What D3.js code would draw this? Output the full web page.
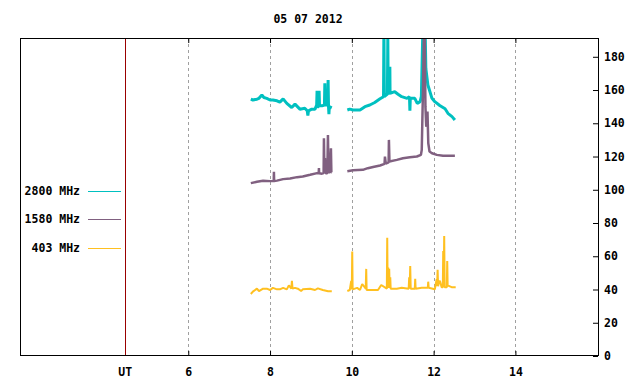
<!DOCTYPE html>
<html>
<head>
<meta charset="utf-8">
<script src="https://cdn.jsdelivr.net/npm/d3@7"></script>
<style>
  html, body { margin: 0; padding: 0; background: #fff; }
  svg text { font-family: "DejaVu Sans Mono", "Liberation Mono", monospace; font-weight: bold; font-size: 11.5px; fill: #000; }
</style>
</head>
<body>
<svg id="chart" width="640" height="384"></svg>
<script>
/* ---- data: [UT hour, flux] , null = data gap ---- */
const title = "05 07 2012";
const xTicks = [6, 8, 10, 12, 14];
const yTicks = [0, 20, 40, 60, 80, 100, 120, 140, 160, 180];
const utMarker = 4.46;

const freqs = ["2800 MHz", "1580 MHz", "403 MHz"];
const colors = ["#00c0c0", "#806080", "#ffc020"];

const mhz2800 = [
    [7.53, 154.5], [7.58, 154], [7.68, 154.5], [7.73, 155], [7.80, 157], [7.85, 155.5],
    [7.92, 155], [8.00, 154], [8.07, 154], [8.17, 153.5], [8.24, 152.7], [8.32, 154.7],
    [8.41, 152], [8.53, 149.5], [8.61, 151.5], [8.73, 148.5], [8.85, 149], [8.91, 147.5],
    [8.925, 144.7], [8.94, 147.5], [9.02, 148.5], [9.10, 148.5], [9.14, 151], [9.15, 159.5],
    [9.16, 150], [9.19, 150], [9.20, 159.5], [9.21, 150.5], [9.27, 150.5], [9.33, 151], [9.34, 164],
    [9.35, 151], [9.41, 151], [9.42, 166], [9.43, 150], [9.44, 145.5], [9.45, 150], [9.51, 149.3],
    [9.70, null],
    [9.89, 148], [9.95, 148.5], [10.03, 148], [10.20, 148], [10.32, 150], [10.44, 151],
    [10.56, 152.5], [10.69, 154.7], [10.775, 156], [10.785, 200], [10.795, 156], [10.87, 157.5],
    [10.88, 192], [10.89, 158], [10.925, 158], [10.93, 174], [10.935, 158], [11.05, 159], [11.13, 157.5],
    [11.22, 156], [11.35, 155], [11.41, 156], [11.42, 147.5], [11.43, 155], [11.54, 155],
    [11.60, 152], [11.67, 153], [11.70, 156], [11.74, 200], [11.76, 175], [11.79, 200],
    [11.81, 173], [11.84, 167], [11.86, 163], [11.96, 155], [12.03, 153], [12.15, 150.7],
    [12.28, 148.7], [12.35, 146], [12.45, 144], [12.52, 142]
];

const mhz1580 = [
    [7.53, 104], [7.68, 104.8], [7.83, 105.4], [8.00, 105.2], [8.09, 105.3], [8.095, 110.8],
    [8.10, 105.3], [8.17, 105.5], [8.32, 106.4], [8.49, 106.8], [8.66, 107.6], [8.80, 108],
    [8.98, 109], [9.15, 110], [9.19, 110], [9.196, 113], [9.20, 110], [9.27, 109.7],
    [9.31, 110], [9.318, 131], [9.33, 110], [9.342, 119], [9.36, 110], [9.40, 110],
    [9.416, 133], [9.43, 110.5], [9.465, 110.5], [9.489, 125], [9.50, 110.5], [9.51, 110.4],
    [9.70, null],
    [9.89, 111.2], [10.03, 111.8], [10.27, 112], [10.39, 113], [10.52, 113.7], [10.69, 114.6],
    [10.80, 115.6], [10.81, 120], [10.83, 115.8], [10.90, 116.5], [10.907, 130], [10.92, 117],
    [11.10, 118], [11.25, 119], [11.42, 119.6], [11.59, 120], [11.69, 121], [11.71, 124],
    [11.74, 160], [11.775, 215], [11.80, 150], [11.82, 138], [11.84, 140], [11.85, 147],
    [11.87, 128], [11.90, 123], [11.96, 122], [12.08, 121], [12.23, 120.4], [12.40, 120.4],
    [12.52, 120.4]
];

const mhz403 = [
    [7.53, 37.3], [7.58, 38.7], [7.68, 40.5], [7.73, 39], [7.83, 40.5], [7.92, 40.5],
    [8.00, 39.7], [8.07, 41], [8.17, 40.1], [8.24, 40.1], [8.32, 41], [8.41, 40.1],
    [8.46, 42.5], [8.52, 40.5], [8.535, 45.2], [8.55, 40.5], [8.61, 41], [8.68, 40.5],
    [8.76, 39.1], [8.80, 40.1], [8.98, 40.5], [9.10, 39.7], [9.17, 40.7], [9.29, 39.7],
    [9.42, 39], [9.51, 39],
    [9.70, null],
    [9.89, 39.1], [9.95, 39.7], [9.985, 45.2], [10.0, 40], [10.01, 62.8], [10.02, 40.1], [10.13, 41],
    [10.20, 39.7], [10.254, 43.3], [10.34, 40.5], [10.352, 52.4], [10.362, 39.7], [10.52, 39.7],
    [10.64, 39.7], [10.719, 42.7], [10.856, 40.5], [10.866, 71.2], [10.876, 41], [10.89, 53.2], [10.90, 41],
    [10.914, 52.4], [10.925, 41], [10.94, 47.4], [10.95, 40.5], [11.10, 40.5], [11.22, 41], [11.39, 40.5],
    [11.403, 47.4], [11.415, 41], [11.428, 54.2], [11.44, 40.5], [11.54, 40.5], [11.55, 46.4], [11.56, 40.5],
    [11.71, 41], [11.79, 41], [11.858, 41], [11.868, 44.7], [11.88, 41], [12.03, 40.1], [12.073, 46],
    [12.085, 42], [12.098, 51.8], [12.11, 42], [12.13, 44.5], [12.154, 45.2], [12.196, 41.4],
    [12.225, 41.4], [12.235, 63.2], [12.247, 45], [12.259, 72.2], [12.27, 41.4], [12.323, 41.4],
    [12.333, 57.2], [12.343, 42.5], [12.44, 41.4], [12.54, 41.4]
];

const seriesData = [mhz2800, mhz1580, mhz403];
const strokeWidths = [3, 2.5, 2];

/* ---- layout ---- */
const plotLeft = 21, plotRight = 598, plotTop = 38, plotBottom = 356;

const svg = d3.select("#chart");

const x = d3.scaleLinear().domain([1.91, 16.02]).range([plotLeft, plotRight]);
const y = d3.scaleLinear().domain([0, 191.3]).range([plotBottom, plotTop]);

svg.append("rect").attr("width", 640).attr("height", 384).attr("fill", "#fff");

// dashed grid at hour ticks
svg.append("g").selectAll("line")
    .data(xTicks)
    .join("line")
    .attr("x1", d => Math.round(x(d)) + 0.5)
    .attr("x2", d => Math.round(x(d)) + 0.5)
    .attr("y1", plotTop)
    .attr("y2", plotBottom)
    .attr("stroke", "#a0a0a0")
    .attr("stroke-dasharray", "3,3");

// clip to plot box
svg.append("clipPath").attr("id", "plotClip")
    .append("rect")
    .attr("x", plotLeft).attr("y", plotTop)
    .attr("width", plotRight - plotLeft).attr("height", plotBottom - plotTop);

const line = d3.line()
    .defined(d => d[1] !== null)
    .x(d => x(d[0]))
    .y(d => y(d[1]));

const plot = svg.append("g").attr("clip-path", "url(#plotClip)");
seriesData.forEach((s, i) => {
    plot.append("path")
        .datum(s)
        .attr("d", line)
        .attr("fill", "none")
        .attr("stroke", colors[i])
        .attr("stroke-width", strokeWidths[i])
        .attr("stroke-linejoin", "bevel");
});

// UT marker line
svg.append("line")
    .attr("x1", Math.round(x(utMarker)) + 0.5)
    .attr("x2", Math.round(x(utMarker)) + 0.5)
    .attr("y1", plotTop)
    .attr("y2", plotBottom)
    .attr("stroke", "#990000");

// axes: inward ticks
const axisB = svg.append("g").attr("transform", `translate(0,${plotBottom})`)
    .call(d3.axisBottom(x).tickValues(xTicks).tickSizeInner(-5).tickSizeOuter(0).tickPadding(12));
const axisT = svg.append("g").attr("transform", `translate(0,${plotTop})`)
    .call(d3.axisTop(x).tickValues(xTicks).tickSizeInner(-5).tickSizeOuter(0).tickFormat(""));
const axisR = svg.append("g").attr("transform", `translate(${plotRight},0)`)
    .call(d3.axisRight(y).tickValues(yTicks).tickSizeInner(-5).tickSizeOuter(0).tickPadding(6));

[axisB, axisT, axisR].forEach(a => {
    a.select(".domain").remove();
    a.selectAll("line").attr("stroke", "#000");
    a.selectAll("text")
        .attr("font-family", null).attr("font-size", null)
        .attr("fill", "#000");
});

// border
svg.append("rect")
    .attr("x", plotLeft - 0.5).attr("y", plotTop + 0.5)
    .attr("width", plotRight - plotLeft + 1).attr("height", plotBottom - plotTop - 1)
    .attr("fill", "none")
    .attr("stroke", "#000");

// UT label
svg.append("text")
    .attr("x", x(utMarker))
    .attr("y", plotBottom + 12)
    .attr("dy", "0.71em")
    .attr("text-anchor", "middle")
    .text("UT");

// title
svg.append("text")
    .attr("x", 308)
    .attr("y", 23)
    .attr("text-anchor", "middle")
    .text(title);

// legend
const legendY = [191, 219, 248];
freqs.forEach((f, i) => {
    svg.append("text")
        .attr("x", 80)
        .attr("y", legendY[i] + 4)
        .attr("text-anchor", "end")
        .text(f);
    svg.append("line")
        .attr("x1", 88).attr("x2", 121)
        .attr("y1", legendY[i] + 0.5).attr("y2", legendY[i] + 0.5)
        .attr("stroke", colors[i]);
});
</script>
</body>
</html>
